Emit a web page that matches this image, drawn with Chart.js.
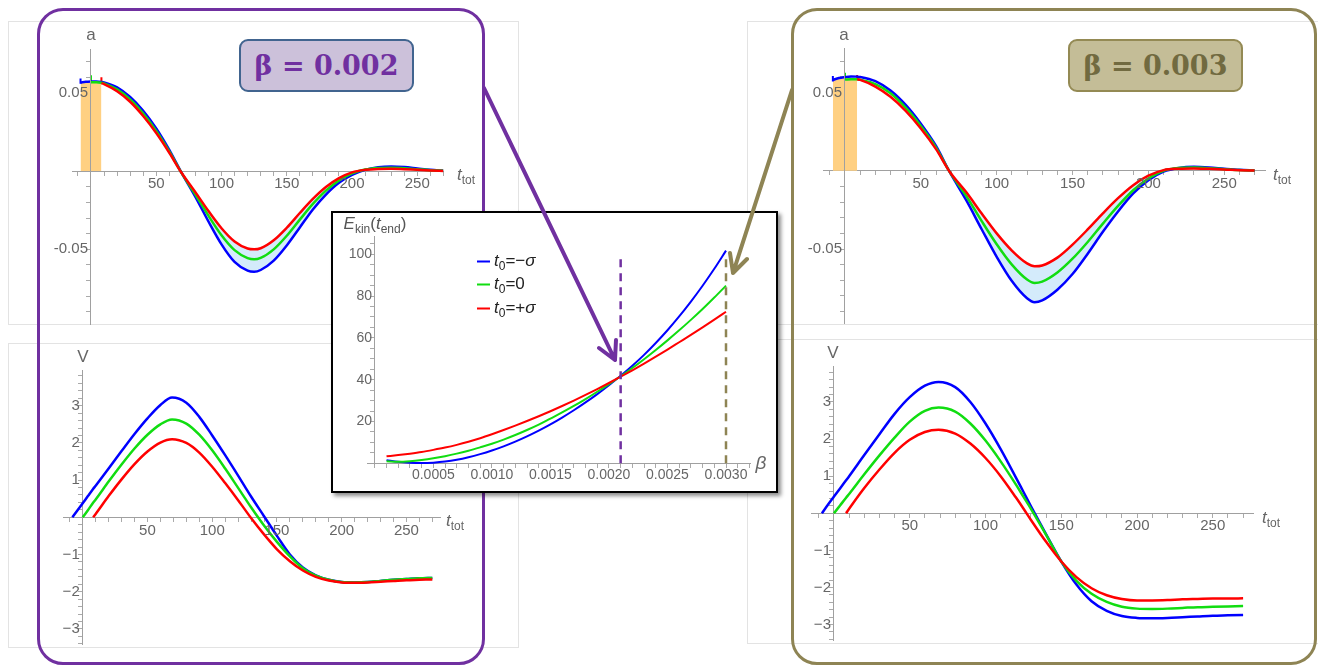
<!DOCTYPE html>
<html>
<head>
<meta charset="utf-8">
<title>E_kin(t_end) vs beta</title>
<script src="https://cdn.jsdelivr.net/npm/chart.js@4.4.1/dist/chart.umd.min.js"></script>
<style>
  body { margin: 0; background: #fff; }
  #page { position: relative; width: 1318px; height: 666px; overflow: hidden; font-family: "Liberation Sans", Arial, sans-serif; }
  canvas.plot { position: absolute; left: 0; top: 0; }
  .panel { position: absolute; border: 1px solid #e3e3e3; box-sizing: border-box; }
  .frame { position: absolute; box-sizing: border-box; border-radius: 26px; border: 3.4px solid; }
  .txt { position: absolute; white-space: nowrap; color: #666; font-size: 17px; line-height: 1; transform: translate(-50%, -50%); }
  .txt sub, .leg sub { font-size: 12px; font-style: normal; vertical-align: -4px; line-height: 0; }
  .beta { position: absolute; box-sizing: border-box; border-radius: 9px; border: 2.5px solid; font-family: "DejaVu Serif", serif; font-weight: bold; font-size: 27px; display: flex; align-items: center; justify-content: center; }
  #inset { position: absolute; left: 331px; top: 211px; width: 447px; height: 282px; box-sizing: border-box; border: 2px solid #000; background: #fff; box-shadow: 3px 3px 4px rgba(0,0,0,0.45); }
  .leg { position: absolute; left: 477px; white-space: nowrap; font-size: 17px; color: #222; line-height: 1; transform: translateY(-50%); }
  .leg span.ln { display: inline-block; width: 13px; height: 2px; vertical-align: middle; margin-right: 4px; }
  svg { position: absolute; left: 0; top: 0; }
</style>
</head>
<body>
<div id="page">
  <div class="panel" style="left:8px;top:21px;width:511px;height:304px"></div>
  <div class="panel" style="left:8px;top:343px;width:511px;height:305px"></div>
  <div class="panel" style="left:747px;top:21px;width:600px;height:304px"></div>
  <div class="panel" style="left:747px;top:339px;width:600px;height:305px"></div>

  <canvas class="plot" id="accel002" width="1318" height="666"></canvas>
  <canvas class="plot" id="accel003" width="1318" height="666"></canvas>
  <canvas class="plot" id="volt002" width="1318" height="666"></canvas>
  <canvas class="plot" id="volt003" width="1318" height="666"></canvas>

  <div class="txt" style="left:91px;top:34px">a</div>
  <div class="txt" style="left:466px;top:174px"><i>t</i><sub>tot</sub></div>
  <div class="txt" style="left:844px;top:34px">a</div>
  <div class="txt" style="left:1282px;top:174px"><i>t</i><sub>tot</sub></div>
  <div class="txt" style="left:83px;top:356px">V</div>
  <div class="txt" style="left:455px;top:520px"><i>t</i><sub>tot</sub></div>
  <div class="txt" style="left:833px;top:352px">V</div>
  <div class="txt" style="left:1271px;top:517px"><i>t</i><sub>tot</sub></div>

  <div class="frame" style="left:37px;top:8px;width:448px;height:657px;border-color:#7030A0"></div>
  <div class="frame" style="left:791px;top:8px;width:526px;height:657px;border-color:#8E8454"></div>

  <div id="inset"></div>
  <canvas class="plot" id="ekin" width="1318" height="666"></canvas>
  <div class="txt" style="left:375px;top:223px;color:#555"><i>E</i><sub>kin</sub>(<i>t</i><sub>end</sub>)</div>
  <div class="txt" style="left:761px;top:462px;font-size:19px"><i>β</i></div>
  <div class="leg" style="top:260px"><span class="ln" style="background:#0000ff"></span><i>t</i><sub>0</sub>=−<i>σ</i></div>
  <div class="leg" style="top:283px"><span class="ln" style="background:#11dd11"></span><i>t</i><sub>0</sub>=0</div>
  <div class="leg" style="top:307px"><span class="ln" style="background:#ff0000"></span><i>t</i><sub>0</sub>=+<i>σ</i></div>

  <svg width="1318" height="666">
    <g fill="none" stroke-width="4" stroke-linecap="round" stroke-linejoin="round">
      <path d="M484 88 L615 360 M599 348 L615 360 L616 340" stroke="#7030A0"/>
      <path d="M792 90 L733 273 M730 253 L733 273 L747 259" stroke="#8E8454"/>
    </g>
  </svg>

  <div class="beta" style="left:239px;top:39px;width:175px;height:53px;background:#CCC1DA;border-color:#41648F;color:#7030A0">β = 0.002</div>
  <div class="beta" style="left:1068px;top:39px;width:175px;height:53px;background:#C4BD97;border-color:#948A54;color:#716A40">β = 0.003</div>
</div>

<script>
const W = 1318, H = 666;
const _ = null;

// time grid (t_tot) shared by the four small panels
const tGrid = [-8, -4, 0, 4, 8, 10, 20, 30, 40, 50, 60, 69, 80, 90, 100, 110, 120, 125,
  130, 140, 150, 160, 170, 180, 190, 200, 210, 220, 230, 240, 250, 260, 270];

// a(t), beta = 0.002
const aBlue002 = [0.0566, 0.0570, 0.0572, 0.0573, 0.0570, 0.0567, 0.0535, 0.0473, 0.0385, 0.0272, 0.0135, -0.0005,
  -0.0165, -0.0322, -0.0468, -0.0580, -0.0636, -0.0643, -0.0632, -0.0572, -0.0475, -0.0360, -0.0245, -0.0150,
  -0.0075, -0.0025, 0.0008, 0.0025, 0.0030, 0.0026, 0.0017, 0.0008, 0.0003];
const aGreen002 = [_, _, 0.0568, 0.0568, 0.0565, 0.0560, 0.0522, 0.0458, 0.0368, 0.0257, 0.0125, -0.0006,
  -0.0150, -0.0285, -0.0410, -0.0505, -0.0556, -0.0564, -0.0555, -0.0500, -0.0413, -0.0310, -0.0210, -0.0125,
  -0.0060, -0.0015, 0.0010, 0.0020, 0.0022, 0.0018, 0.0012, 0.0006, 0.0002];
const aRed002 = [_, _, _, _, 0.0562, 0.0556, 0.0510, 0.0443, 0.0352, 0.0243, 0.0117, -0.0006,
  -0.0135, -0.0255, -0.0365, -0.0450, -0.0495, -0.0500, -0.0493, -0.0442, -0.0362, -0.0268, -0.0178, -0.0102,
  -0.0045, -0.0008, 0.0008, 0.0014, 0.0015, 0.0012, 0.0008, 0.0004, 0.0001];

// a(t), beta = 0.003
const aBlue003 = [0.0580, 0.0592, 0.0598, 0.0602, 0.0601, 0.0599, 0.0572, 0.0512, 0.0420, 0.0300, 0.0158, -0.0008,
  -0.0190, -0.0372, -0.0550, -0.0705, -0.0815, -0.0840, -0.0828, -0.0760, -0.0660, -0.0530, -0.0390, -0.0260,
  -0.0145, -0.0060, -0.0005, 0.0018, 0.0025, 0.0021, 0.0013, 0.0006, 0.0002];
const aGreen003 = [_, _, 0.0582, 0.0585, 0.0584, 0.0582, 0.0553, 0.0495, 0.0403, 0.0286, 0.0148, -0.0007,
  -0.0162, -0.0320, -0.0470, -0.0600, -0.0695, -0.0717, -0.0708, -0.0650, -0.0562, -0.0455, -0.0338, -0.0225,
  -0.0125, -0.0050, 0.0000, 0.0017, 0.0020, 0.0016, 0.0010, 0.0004, 0.0001];
const aRed003 = [_, _, _, _, 0.0584, 0.0580, 0.0537, 0.0472, 0.0382, 0.0270, 0.0138, -0.0006,
  -0.0138, -0.0272, -0.0400, -0.0510, -0.0592, -0.0610, -0.0605, -0.0555, -0.0472, -0.0375, -0.0272, -0.0175,
  -0.0092, -0.0032, 0.0004, 0.0013, 0.0015, 0.0012, 0.0008, 0.0003, 0.0001];

// V(t), beta = 0.002
const vBlue002 = [0, 0.19, 0.38, 0.57, 0.76, 0.85, 1.31, 1.78, 2.24, 2.66, 3.02, 3.22,
  3.08, 2.70, 2.20, 1.67, 1.12, 0.84, 0.56, 0.03, -0.50, -1.00, -1.35, -1.56,
  -1.68, -1.74, -1.75, -1.74, -1.71, -1.68, -1.66, -1.64, -1.63];
const vGreen002 = [_, _, 0, 0.19, 0.39, 0.48, 0.96, 1.42, 1.85, 2.22, 2.50, 2.63,
  2.52, 2.22, 1.80, 1.31, 0.79, 0.53, 0.27, -0.22, -0.66, -1.05, -1.37, -1.57,
  -1.68, -1.74, -1.75, -1.74, -1.71, -1.68, -1.66, -1.64, -1.63];
const vRed002 = [_, _, _, _, 0, 0.09, 0.57, 1.02, 1.43, 1.77, 2.01, 2.10,
  2.00, 1.74, 1.36, 0.92, 0.46, 0.22, -0.02, -0.46, -0.86, -1.18, -1.43, -1.60,
  -1.70, -1.75, -1.76, -1.75, -1.73, -1.71, -1.69, -1.68, -1.67];

// V(t), beta = 0.003
const vBlue003 = [0, 0.23, 0.45, 0.67, 0.89, 1.00, 1.57, 2.13, 2.68, 3.13, 3.44, 3.54,
  3.40, 3.00, 2.42, 1.73, 0.97, 0.58, 0.19, -0.57, -1.30, -1.92, -2.37, -2.63,
  -2.77, -2.82, -2.83, -2.82, -2.80, -2.78, -2.76, -2.75, -2.74];
const vGreen003 = [_, _, 0, 0.21, 0.42, 0.52, 1.05, 1.56, 2.04, 2.47, 2.76, 2.85,
  2.74, 2.42, 1.96, 1.40, 0.78, 0.45, 0.12, -0.58, -1.30, -1.82, -2.17, -2.39,
  -2.52, -2.57, -2.58, -2.57, -2.55, -2.53, -2.52, -2.51, -2.50];
const vRed003 = [_, _, _, _, 0, 0.12, 0.68, 1.18, 1.63, 1.98, 2.19, 2.25,
  2.15, 1.88, 1.49, 1.00, 0.43, 0.13, -0.18, -0.77, -1.30, -1.72, -2.02, -2.21,
  -2.31, -2.35, -2.35, -2.34, -2.32, -2.31, -2.30, -2.30, -2.29];

// pulse window (t0 = -sigma .. +sigma) and curve start markers
const sigmaWindow = [-8, 8];
const windowTop002 = 0.0569, windowTop003 = 0.0590;
const startTimes = [-8, 0, 8];
const markLo002 = [0.0558, 0.0570, 0.0565], markHi002 = [0.0592, 0.0612, 0.0600];
const markLo003 = [0.0570, 0.0584, 0.0582], markHi003 = [0.0605, 0.0625, 0.0612];
const spreadRange = [69, 200];

// inset: E_kin(t_end) against beta
const betaGrid = [0.0001, 0.0002, 0.0003, 0.0004, 0.0005, 0.0006, 0.0007, 0.0008, 0.0009, 0.0010,
  0.0011, 0.0012, 0.0013, 0.0014, 0.0015, 0.0016, 0.0017, 0.0018, 0.0019, 0.0020,
  0.0021, 0.0022, 0.0023, 0.0024, 0.0025, 0.0026, 0.0027, 0.0028, 0.0029, 0.0030];
const eBlue = [1.5, 0.7, 0.25, 0.1, 0.3, 0.8, 1.65, 2.85, 4.35, 6.1, 8.1, 10.35, 12.85, 15.6, 18.6,
  21.85, 25.35, 29.1, 33.1, 37.35, 41.85, 46.65, 51.85, 57.55, 63.65, 70.25, 77.35, 84.95, 93.05, 101.75];
const eGreen = [0.9, 0.7, 1.0, 1.6, 2.4, 3.4, 4.6, 6.0, 7.6, 9.3, 11.3, 13.5, 15.9, 18.5, 21.4,
  24.3, 27.4, 30.7, 34.2, 37.85, 41.65, 45.6, 49.8, 54.2, 58.8, 63.6, 68.6, 73.8, 79.3, 85.0];
const eRed = [3.3, 3.9, 4.6, 5.4, 6.4, 7.5, 8.8, 10.3, 12.0, 13.9, 15.9, 18.0, 20.2, 22.5, 24.9,
  27.4, 30.0, 32.7, 35.5, 38.4, 41.4, 44.5, 47.7, 51.0, 54.4, 57.9, 61.4, 65.0, 68.7, 72.5];
const betaMarks = [0.0021, 0.0030];
const betaMarkTop = 100;

const BLUE = '#0000ff', GREEN = '#11dd11', RED = '#ff0000';
const ORANGE = 'rgb(255, 208, 130)', SPREAD = 'rgba(205, 232, 250, 0.85)';

function pts(xs, ys) {
  const out = [];
  xs.forEach((x, i) => { if (ys[i] !== null) out.push({x: x, y: ys[i]}); });
  return out;
}
function within(xs, ys, lo, hi) {
  return pts(xs, ys).filter(p => p.x >= lo && p.x <= hi);
}
function curve(data, color, width) {
  return {data: data, borderColor: color, borderWidth: width, pointRadius: 0, showLine: true,
    cubicInterpolationMode: 'monotone', fill: false};
}
function segment(data, color, width, dash) {
  return {data: data, borderColor: color, borderWidth: width, pointRadius: 0, showLine: true,
    tension: 0, fill: false, borderDash: dash || []};
}

function axis(min, max, step, keep, fmt, size, pad) {
  return {
    type: 'linear', min: min, max: max,
    ticks: {stepSize: step, includeBounds: false, autoSkip: false, maxRotation: 0, maxTicksLimit: 1000,
      color: '#666', font: {family: 'Liberation Sans', size: size}, padding: pad, z: 1,
      callback: v => keep(v) ? fmt(v) : ''},
    grid: {drawOnChartArea: false, drawTicks: true, tickLength: 4, tickColor: '#aaa', color: '#aaa'},
    border: {color: '#a0a0a0', width: 1}
  };
}
// y labels sit right against the axis line, a thin space keeps them off it
const yLabel = s => String(s).replace('-', '\u2212') + '\u2009';
const near = (v, m) => Math.abs(v / m - Math.round(v / m)) < 1e-6 && Math.abs(v) > 1e-9;

function plot(id, rect, datasets, xAxis, yAxis) {
  xAxis.position = {y: 0};
  yAxis.position = {x: 0};
  return new Chart(document.getElementById(id), {
    type: 'scatter',
    data: {datasets: datasets},
    options: {
      responsive: false, animation: false, events: [],
      layout: {padding: {left: rect[0], top: rect[1], right: W - rect[2], bottom: H - rect[3]}},
      plugins: {legend: {display: false}, tooltip: {enabled: false}},
      scales: {x: xAxis, y: yAxis}
    }
  });
}

function accelSets(blue, green, red, top, lo, hi) {
  const sets = [curve(pts(tGrid, red), RED, 2.5), curve(pts(tGrid, green), GREEN, 2.5), curve(pts(tGrid, blue), BLUE, 2.5)];
  [BLUE, GREEN, RED].forEach((c, i) => {
    sets.push(segment([{x: startTimes[i], y: lo[i]}, {x: startTimes[i], y: hi[i]}], c, 2));
  });
  const band = segment(within(tGrid, blue, spreadRange[0], spreadRange[1]), 'rgba(0,0,0,0)', 0);
  band.cubicInterpolationMode = 'monotone'; band.fill = '+1'; band.backgroundColor = SPREAD;
  const bandEdge = segment(within(tGrid, red, spreadRange[0], spreadRange[1]), 'rgba(0,0,0,0)', 0);
  bandEdge.cubicInterpolationMode = 'monotone';
  sets.push(band, bandEdge);
  const win = segment([{x: sigmaWindow[0], y: top}, {x: sigmaWindow[1], y: top}], 'rgba(0,0,0,0)', 0);
  win.fill = 'origin'; win.backgroundColor = ORANGE;
  sets.push(win);
  return sets;
}

const tKeep = v => near(v, 50);
const aKeep = v => Math.abs(Math.abs(v) - 0.05) < 1e-9;
function accelAxis() {
  const ya = axis(-0.0977, 0.078, 0.01, aKeep, v => v.toFixed(2) + '\u2009', 15, 0);
  ya.border.z = 1;
  return ya;
}

// top row: a(t)
plot('accel002', [72.7, 49, 443.4, 324], accelSets(aBlue002, aGreen002, aRed002, windowTop002, markLo002, markHi002),
  axis(-14, 270, 10, tKeep, v => String(v), 15, 0), accelAxis());
plot('accel003', [823, 48.6, 1265.2, 323.7], accelSets(aBlue003, aGreen003, aRed003, windowTop003, markLo003, markHi003),
  axis(-14.5, 277, 10, tKeep, v => String(v), 15, 0), accelAxis());

// bottom row: V(t)
function voltSets(blue, green, red) {
  return [curve(pts(tGrid, red), RED, 2.5), curve(pts(tGrid, green), GREEN, 2.5), curve(pts(tGrid, blue), BLUE, 2.5)];
}
const vKeep = v => near(v, 1);
plot('volt002', [63.3, 370, 440.1, 644.9], voltSets(vBlue002, vGreen002, vRed002),
  axis(-15, 276, 10, tKeep, v => String(v), 15, 0.5), axis(-3.43, 3.96, 0.2, vKeep, v => yLabel(Math.round(v)), 15, 0));
plot('volt003', [811.7, 366, 1253.4, 640.9], voltSets(vBlue003, vGreen003, vRed003),
  axis(-14.7, 276.8, 10, tKeep, v => String(v), 15, 0), axis(-3.44, 3.97, 0.2, vKeep, v => yLabel(Math.round(v)), 15, 0));

// inset
const ekinSets = [
  segment([{x: betaMarks[0], y: 0}, {x: betaMarks[0], y: betaMarkTop}], '#7030A0', 2.5, [8, 6]),
  segment([{x: betaMarks[1], y: 0}, {x: betaMarks[1], y: betaMarkTop}], '#8E8454', 2.5, [8, 6]),
  curve(pts(betaGrid, eRed), RED, 2),
  curve(pts(betaGrid, eGreen), GREEN, 2),
  curve(pts(betaGrid, eBlue), BLUE, 2)
];
plot('ekin', [367.8, 236.7, 750, 464.3], ekinSets,
  axis(-0.00006, 0.003205, 0.0001, v => near(v, 0.0005), v => v.toFixed(4), 14, -1),
  axis(-0.5, 108.4, 5, v => near(v, 20), v => yLabel(Math.round(v)), 14, 0));
</script>
</body>
</html>
